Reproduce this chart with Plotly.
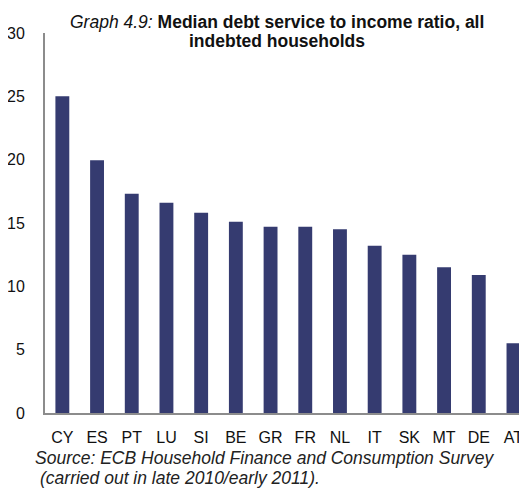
import plotly.graph_objects as go

countries = ["CY", "ES", "PT", "LU", "SI", "BE", "GR", "FR", "NL", "IT", "SK", "MT", "DE", "AT"]
ratios = [25.0, 19.95, 17.3, 16.6, 15.8, 15.1, 14.7, 14.7, 14.5, 13.2, 12.5, 11.5, 10.9, 5.5]
y_ticks = [0, 5, 10, 15, 20, 25, 30]

FONT = "Arial, Liberation Sans, sans-serif"

# The page body adds an 8px offset; the figure is sized so that its plot area
# lands where the reference has it (x 45..527, y 33..413 in the window).
OFF = 8
W, H = 527 - OFF, 488 - OFF
L, T = 45 - OFF, 33 - OFF
B = H - (413.3 - OFF)
PW, PH = W - L, H - T - B


def px(xw):
    return (xw - 45) / PW


def py(yw):
    return (413.3 - yw) / PH


fig = go.Figure(go.Bar(x=countries, y=ratios, marker=dict(color="#353B70", line=dict(width=0))))

fig.update_layout(
    width=W, height=H,
    margin=dict(l=L, r=0, t=T, b=B),
    paper_bgcolor="white", plot_bgcolor="white",
    bargap=0.6, showlegend=False,
    font=dict(family=FONT, size=16, color="#222222"),
)
fig.update_xaxes(
    range=[-0.5, 13.39], showgrid=False, showline=True, linecolor="#8c8c8c", linewidth=2,
    ticks="", ticklabelstandoff=9, tickfont=dict(size=16, color="#111111"),
)
fig.update_yaxes(
    range=[0, 30], tickvals=y_ticks, showgrid=False, showline=True, linecolor="#8c8c8c", linewidth=2,
    ticks="", ticklabelstandoff=15, tickfont=dict(size=16, color="#111111"), zeroline=False,
)

fig.add_annotation(text="<i>Graph 4.9:</i> <b>Median debt service to income ratio, all</b>",
                   xref="paper", yref="paper", x=px(277), y=py(22),
                   xanchor="center", yanchor="middle", showarrow=False,
                   font=dict(size=17.5, family=FONT, color="#111111"))
fig.add_annotation(text="<b>indebted households</b>",
                   xref="paper", yref="paper", x=px(277), y=py(41.5),
                   xanchor="center", yanchor="middle", showarrow=False,
                   font=dict(size=17.5, family=FONT, color="#111111"))
fig.add_annotation(text="<i>Source: ECB Household Finance and Consumption Survey</i>",
                   xref="paper", yref="paper", x=px(33), y=py(458),
                   xanchor="left", yanchor="middle", showarrow=False,
                   font=dict(size=17.5, family=FONT, color="#222222"))
fig.add_annotation(text="<i>(carried out in late 2010/early 2011).</i>",
                   xref="paper", yref="paper", x=px(38), y=py(478),
                   xanchor="left", yanchor="middle", showarrow=False,
                   font=dict(size=17.5, family=FONT, color="#222222"))

fig.write_html("out.html")
